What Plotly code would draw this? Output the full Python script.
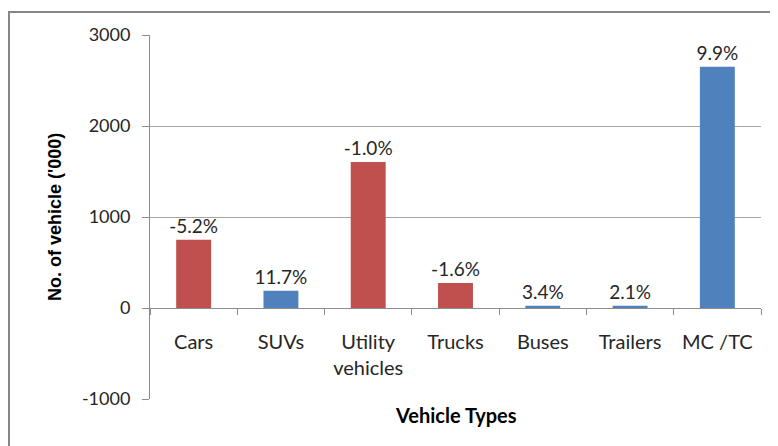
import plotly.graph_objects as go

# data
categories = ["Cars", "SUVs", "Utility<br>vehicles", "Trucks", "Buses", "Trailers", "MC /TC"]
vehicles_000 = [750, 190, 1605, 275, 25, 25, 2650]
growth_labels = ["-5.2%", "11.7%", "-1.0%", "-1.6%", "3.4%", "2.1%", "9.9%"]
bar_colors = ["#C0504D", "#4F81BD", "#C0504D", "#C0504D", "#4F81BD", "#4F81BD", "#4F81BD"]
y_ticks = [-1000, 0, 1000, 2000, 3000]
y_tick_text = ["-1000", "0", "1000", "2000", "3000"]

FONT = "Lato"
GREY = "#8C8C8C"

# page body adds an 8px offset, so positions below are shifted by it
OFF = 8
W, H = 778, 446
L, T = 150 - OFF, 35 - OFF
R, B = W - (761 - OFF), H - (399 - OFF)
pw, ph = W - L - R, H - T - B

fig = go.Figure()
fig.add_trace(go.Bar(
    x=categories,
    y=vehicles_000,
    marker=dict(color=bar_colors, line=dict(width=0)),
    text=growth_labels,
    textposition="outside",
    constraintext="none",
    textfont=dict(family=FONT, size=19, color="#262626"),
    cliponaxis=False,
    width=0.4,
))

fig.update_layout(
    width=W, height=H,
    margin=dict(l=L, r=R, t=T, b=B, pad=0),
    paper_bgcolor="white",
    plot_bgcolor="white",
    showlegend=False,
    font=dict(family=FONT, size=18, color="#262626"),
)

fig.update_yaxes(
    range=[-1000, 3000],
    tickvals=y_ticks, ticktext=y_tick_text,
    showgrid=True, gridcolor="#A6A6A6", gridwidth=1,
    zeroline=False,
    showline=True, linecolor=GREY, linewidth=1,
    ticks="outside", ticklen=7, tickcolor=GREY,
    ticklabelstandoff=8,
    tickfont=dict(family=FONT, size=18, color="#262626"),
)

# x axis sits on the zero line
fig.update_xaxes(
    anchor="free", position=0.25,
    showline=True, linecolor=GREY, linewidth=1,
    ticks="outside", ticklen=6, tickcolor=GREY,
    tickson="boundaries",
    ticklabelstandoff=16,
    showgrid=False,
    tickfont=dict(family=FONT, size=20, color="#262626"),
)

# axis titles (pixel positions from the reference, minus the offset)
fig.add_annotation(
    text="<b>No. of vehicle ('000)</b>", textangle=-90,
    xref="paper", yref="paper",
    x=(55 - OFF - L) / pw, y=0.5, xanchor="center", yanchor="middle",
    showarrow=False,
    font=dict(family="Liberation Sans", size=18, color="black"),
)
fig.add_annotation(
    text="<b>Vehicle Types</b>",
    xref="paper", yref="paper",
    x=(456 - OFF - L) / pw, y=-(415 - OFF - (H - B)) / ph,
    xanchor="center", yanchor="middle", showarrow=False,
    font=dict(family=FONT, size=20, color="black"),
)

# chart frame
fig.add_shape(
    type="rect", xref="paper", yref="paper",
    x0=(1 - L) / pw, x1=(W + 5 - L) / pw,
    y0=-(H + 5 - (H - B)) / ph, y1=1 + (T - (12 - OFF)) / ph,
    line=dict(color="#868686", width=2),
    layer="below",
)

fig.write_html("out.html")
